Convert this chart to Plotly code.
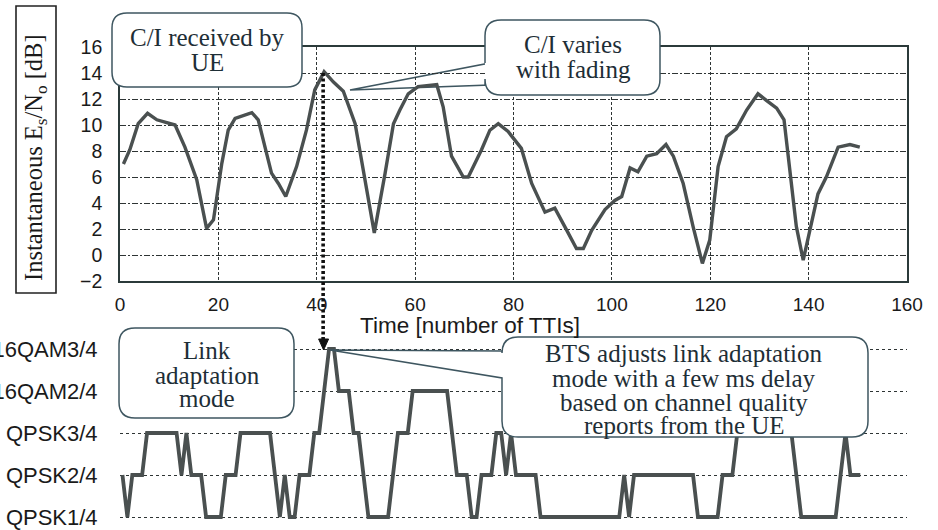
import plotly.graph_objects as go

# ---------------- data ----------------
ci_time = [0.7, 2, 3.7, 5.6, 7.5, 9.1, 11.2, 13.2, 15.6, 17.6, 19, 20.7, 22, 23.4, 26.8, 28.1,
           30.8, 32.2, 33.7, 35.9, 37.9, 39.6, 41.5, 43.4, 45.4, 47.8, 49.8, 51.7, 53.9, 55.6,
           56.9, 58.6, 60.6, 64.4, 65.7, 67.4, 69.8, 70.8, 73.5, 75.2, 76.9, 78.9, 81.6, 83.7,
           86.4, 88.4, 90.4, 92.8, 94.2, 95.9, 98.6, 100.6, 102, 103.7, 105.3, 107.1, 109.1,
           111, 112.5, 114.5, 116.5, 118.4, 119.9, 121.6, 123.3, 125.3, 127.4, 129.7, 131.4,
           133.5, 135, 136.2, 137.5, 138.9, 140.2, 141.9, 143.6, 146, 148.4, 150.4]
ci_db = [7.0, 8.1, 10.1, 10.9, 10.4, 10.2, 10.0, 8.3, 5.8, 2.05, 2.7, 7.05, 9.6, 10.5, 10.95, 10.4,
         6.3, 5.5, 4.5, 6.8, 9.6, 12.7, 14.1, 13.3, 12.6, 10.1, 5.8, 1.7, 6.3, 10.1,
         11.15, 12.4, 12.95, 13.1, 11.4, 7.6, 6.0, 6.0, 8.1, 9.6, 10.1, 9.5, 8.2, 5.5,
         3.3, 3.6, 2.2, 0.5, 0.5, 1.9, 3.5, 4.2, 4.5, 6.7, 6.4, 7.6, 7.8,
         8.5, 7.6, 5.5, 2.2, -0.65, 1.15, 6.8, 9.1, 9.7, 11.15, 12.4, 11.9,
         11.3, 10.4, 6.3, 2.2, -0.4, 1.7, 4.7, 6.0, 8.3, 8.5, 8.3]

mode_labels = ["QPSK1/4", "QPSK2/4", "QPSK3/4", "16QAM2/4", "16QAM3/4"]
# link adaptation mode index per TTI (0 = QPSK1/4 ... 4 = 16QAM3/4), TTI 0..150
mode_level = [1, 0, 1, 1, 1, 2, 2, 2, 2, 2, 2, 2, 1, 2, 1, 1, 1, 0, 0, 0,
              0, 1, 1, 1, 2, 2, 2, 2, 2, 2, 2, 1, 0, 1, 0, 0, 1, 1, 1, 2,
              2, 3, 4, 4, 3, 3, 3, 2, 2, 1, 0, 0, 0, 0, 0, 1, 2, 2, 2, 3,
              3, 3, 3, 3, 3, 3, 3, 2, 1, 1, 1, 0, 0, 1, 1, 1, 2, 2, 1, 2,
              1, 1, 1, 1, 1, 0, 0, 0, 0, 0, 0, 0, 0, 0, 0, 0, 0, 0, 0, 0,
              0, 0, 1, 0, 1, 1, 1, 1, 1, 1, 1, 1, 1, 1, 1, 1, 1, 0, 0, 0,
              0, 0, 1, 1, 1, 2, 3, 3, 3, 3, 3, 3, 3, 3, 3, 3, 2, 1, 0, 0,
              0, 0, 0, 0, 0, 0, 1, 2, 1, 1, 1]
mode_tti = [i + 0.5 for i in range(len(mode_level))]

x_ticks = list(range(0, 161, 20))
y_ticks = list(range(-2, 17, 2))

# ---------------- layout helpers (pixel -> paper) ----------------
W, H = 938, 530
def PX(px):
    return px / W
def PY(py):
    return 1 - py / H

def path_from_px(cmds):
    out = []
    for c in cmds:
        op = c[0]
        pts = c[1:]
        coords = []
        for i in range(0, len(pts), 2):
            coords.append(f"{PX(pts[i]):.5f},{PY(pts[i+1]):.5f}")
        out.append(op + " " + " ".join(coords) if coords else op)
    return " ".join(out)

def rounded_box(x0, y0, x1, y1, r, wedge=None, gap=None):
    if gap:
        ya, yb = gap  # leave left edge open between ya (upper) and yb (lower)
        cmds = [("M", x0, yb), ("L", x0, y1 - r), ("Q", x0, y1, x0 + r, y1),
                ("L", x1 - r, y1), ("Q", x1, y1, x1, y1 - r), ("L", x1, y0 + r),
                ("Q", x1, y0, x1 - r, y0), ("L", x0 + r, y0), ("Q", x0, y0, x0, y0 + r),
                ("L", x0, ya)]
        return path_from_px(cmds)
    cmds = [("M", x0 + r, y0), ("L", x1 - r, y0), ("Q", x1, y0, x1, y0 + r),
            ("L", x1, y1 - r), ("Q", x1, y1, x1 - r, y1), ("L", x0 + r, y1),
            ("Q", x0, y1, x0, y1 - r)]
    if wedge:
        ya, tipx, tipy, yb = wedge
        cmds += [("L", x0, yb), ("L", tipx, tipy), ("L", x0, ya)]
    cmds += [("L", x0, y0 + r), ("Q", x0, y0, x0 + r, y0), ("Z",)]
    return path_from_px(cmds)

line_col = "#4a5050"
grid_col = "#2e3434"
text_col = "#1e2e36"
box_col = "#3e5660"
serif = "Liberation Serif, Times New Roman, serif"
sans = "Liberation Sans, Arial, sans-serif"

fig = go.Figure()
fig.add_trace(go.Scatter(x=ci_time, y=ci_db, mode="lines",
                         line=dict(color=line_col, width=3.4), xaxis="x", yaxis="y",
                         showlegend=False, hoverinfo="skip"))
fig.add_trace(go.Scatter(x=mode_tti, y=mode_level, mode="lines",
                         line=dict(color=line_col, width=3.8), xaxis="x2", yaxis="y2",
                         showlegend=False, hoverinfo="skip"))

xdom = [PX(120), PX(907)]
fig.update_layout(
    width=W, height=H, margin=dict(l=0, r=0, t=0, b=0, autoexpand=False),
    paper_bgcolor="white", plot_bgcolor="white",
    xaxis=dict(domain=xdom, range=[0, 160], anchor="y", tickvals=x_ticks, automargin=False,
               showgrid=True, gridcolor=grid_col, griddash="3px,2px", gridwidth=1,
               showline=True, mirror=True, linecolor="#2b3a3a", linewidth=1.6,
               zeroline=False, ticks="outside", ticklen=5, tickcolor="rgba(0,0,0,0)",
               tickfont=dict(family=sans, size=19, color="#1a1a1a")),
    yaxis=dict(domain=[PY(281), PY(47)], range=[-2, 16], tickvals=y_ticks, anchor="x",
               automargin=False,
               showgrid=True, gridcolor=grid_col, griddash="6px,2px,2px,2px", gridwidth=1,
               showline=True, mirror=True, linecolor="#2b3a3a", linewidth=1.6,
               zeroline=False, ticks="outside", ticklen=12, tickcolor="rgba(0,0,0,0)",
               tickfont=dict(family=sans, size=19.5, color="#1a1a1a")),
    xaxis2=dict(domain=xdom, range=[0, 160], anchor="y2", showticklabels=False,
                automargin=False, showgrid=False, zeroline=False, showline=False),
    yaxis2=dict(domain=[PY(529.6), PY(336.4)], range=[-0.3, 4.3], anchor="x2",
                automargin=False,
                tickvals=list(range(len(mode_labels))), ticktext=mode_labels,
                showgrid=True, gridcolor=grid_col, griddash="dot", gridwidth=1,
                zeroline=False, showline=False, ticks="outside", ticklen=17,
                tickcolor="rgba(0,0,0,0)",
                tickfont=dict(family=sans, size=22, color="#1a1a1a")),
)

shapes = []
# y-title box
shapes.append(dict(type="rect", xref="paper", yref="paper", x0=PX(16), x1=PX(56),
                   y0=PY(293), y1=PY(6), line=dict(color="#222", width=1.6),
                   fillcolor="white", layer="above"))
# dotted arrow from C/I peak to mode peak
shapes.append(dict(type="line", xref="x", yref="paper", x0=41.3, x1=41.3,
                   y0=PY(73), y1=PY(341), line=dict(color="#111", width=3.6, dash="3px,2.5px"),
                   layer="above"))
shapes.append(dict(type="path", xref="paper", yref="paper",
                   path=path_from_px([("M", 318.6, 339), ("L", 328.6, 339), ("L", 323.6, 350), ("Z",)]),
                   fillcolor="#111", line=dict(color="#111", width=1), layer="above"))
# callout "C/I varies with fading": wedge below the curve, box on top
shapes.append(dict(type="path", xref="paper", yref="paper",
                   path=path_from_px([("M", 350, 90), ("L", 490, 63), ("L", 490, 85), ("Z",)]),
                   fillcolor="white", line=dict(color=box_col, width=1.5), layer="between"))
callouts = [
    rounded_box(112, 13, 302, 87, 15),
    rounded_box(485, 20, 660, 95, 16, gap=(63, 85)),
    rounded_box(119, 328, 294, 418, 16),
    rounded_box(502, 337, 868, 437, 16, wedge=(351, 330, 350, 378)),
]
for p in callouts:
    shapes.append(dict(type="path", xref="paper", yref="paper", path=p,
                       fillcolor="white", line=dict(color=box_col, width=1.5), layer="above"))
fig.update_layout(shapes=shapes)

ann = []
def txt(s, px, py, size=25, family=serif, color=text_col, angle=0):
    ann.append(dict(text=s, x=PX(px), y=PY(py), xref="paper", yref="paper",
                    showarrow=False, xanchor="center", yanchor="middle",
                    font=dict(family=family, size=size, color=color), textangle=angle))

txt("C/I received by", 207, 38)
txt("UE", 207, 63)
txt("C/I varies", 573, 45)
txt("with fading", 573, 70)
txt("Link", 207, 350)
txt("adaptation", 207, 375)
txt("mode", 207, 398)
txt("BTS adjusts link adaptation", 684, 353)
txt("mode with a few ms delay", 684, 378)
txt("based on channel quality", 684, 402)
txt("reports from the UE", 684, 425)
txt("Time [number of TTIs]", 470, 325, size=22.5, family=sans, color="#1a1a1a")
txt("Instantaneous E<sub>s</sub>/N<sub>o</sub> [dB]", 36, 158, size=24.5, color="#1a1a1a", angle=-90)
fig.update_layout(annotations=ann)

fig.write_html("out.html", config={"displayModeBar": False},
               post_script="document.body.style.margin='0';")
